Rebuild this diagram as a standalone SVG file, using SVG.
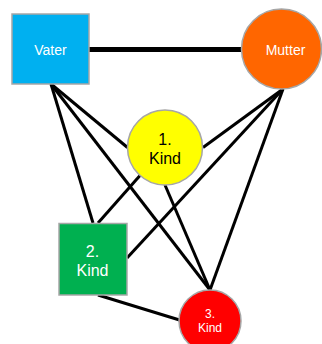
<svg xmlns="http://www.w3.org/2000/svg" width="322" height="344" viewBox="0 0 322 344">
<style>
.n{stroke:#A6A6A6;stroke-width:1.5}
.c{stroke:#000;stroke-width:3;fill:none;stroke-linecap:butt}
.t{font-family:"Liberation Sans",Arial,sans-serif;text-anchor:middle}
.w{fill:#fff}
.b{fill:#000}
</style>
<rect width="322" height="344" fill="#fff"/>
<g id="connectors">
<line class="c" x1="89" y1="49.5" x2="242" y2="49.5" style="stroke-width:5"/>
<line class="c" x1="51" y1="84" x2="93" y2="223"/>
<line class="c" x1="51" y1="84" x2="127.5" y2="147.5"/>
<line class="c" x1="51" y1="84" x2="210" y2="290"/>
<line class="c" x1="283" y1="89" x2="203" y2="147.5"/>
<line class="c" x1="283" y1="89" x2="127" y2="258"/>
<line class="c" x1="283" y1="89" x2="210" y2="290"/>
<line class="c" x1="140" y1="175.5" x2="98" y2="223"/>
<line class="c" x1="165" y1="185" x2="210" y2="290"/>
<line class="c" x1="98" y1="295" x2="179.5" y2="320"/>
</g>
<g id="vater">
<rect class="n" x="12" y="14" width="77" height="70" fill="#00B0F0"/>
<text class="t w" x="50.5" y="55" font-size="14">Vater</text>
</g>
<g id="mutter">
<circle class="n" cx="281.5" cy="49" r="40" fill="#FF6600"/>
<text class="t w" x="285.5" y="55" font-size="14">Mutter</text>
</g>
<g id="kind1">
<circle class="n" cx="165" cy="147.5" r="37.5" fill="#FFFF00"/>
<text class="t b" x="165" y="145" font-size="16">1.</text>
<text class="t b" x="165" y="164" font-size="16">Kind</text>
</g>
<g id="kind2">
<rect class="n" x="59" y="223.5" width="68" height="71.5" fill="#00B050"/>
<text class="t w" x="92.5" y="257" font-size="16">2.</text>
<text class="t w" x="92.5" y="275.5" font-size="16">Kind</text>
</g>
<g id="kind3">
<circle class="n" cx="210" cy="321" r="31" fill="#FF0000"/>
<text class="t w" x="210" y="318" font-size="12">3.</text>
<text class="t w" x="210" y="332" font-size="12">Kind</text>
</g>
</svg>
